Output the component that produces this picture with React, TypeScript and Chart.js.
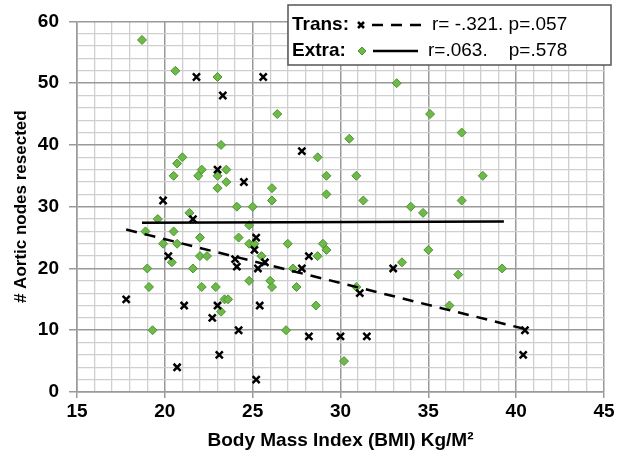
import React, { useEffect, useRef } from "react";
import { Chart, registerables } from "chart.js";

Chart.register(...registerables);

// Trans (black x markers)
const transBMI = [21.8, 25.6, 23.3, 27.8, 23.0, 24.5, 19.9, 21.6, 25.2, 25.1, 20.2, 28.2, 24.0, 24.1, 25.7, 25.3, 27.8, 33.0, 31.1, 17.8, 21.1, 23.0, 25.4, 22.7, 24.2, 40.5, 28.2, 30.0, 31.5, 23.1, 40.4, 20.7, 25.2];
const transNodes = [51, 51, 48, 39, 36, 34, 31, 28, 25, 23, 22, 22, 21.5, 20.3, 21, 20, 20, 20, 16, 15, 14, 14, 14, 12, 10, 10, 9, 9, 9, 6, 6, 4, 2];

// Extra (green diamonds)
const extraBMI = [18.7, 20.6, 23.0, 26.4, 23.2, 21.0, 20.7, 20.5, 22.1, 21.9, 23.0, 23.5, 23.5, 23.0, 26.1, 26.1, 24.1, 25.0, 19.6, 21.4, 24.8, 18.9, 20.5, 19.9, 20.7, 22.0, 24.2, 24.8, 25.1, 25.5, 20.4, 22.0, 22.4, 19.0, 21.6, 24.8, 26.0, 26.1, 19.1, 22.1, 22.9, 23.4, 23.6, 23.2, 19.3, 33.2, 35.1, 36.9, 30.5, 28.7, 29.2, 30.9, 38.1, 29.2, 31.3, 36.9, 34.0, 34.7, 27.0, 29.0, 29.2, 28.7, 27.3, 33.5, 35.0, 27.5, 30.9, 28.6, 26.9, 30.2, 36.7, 39.2, 36.2];
const extraNodes = [57, 52, 51, 45, 40, 38, 37, 35, 36, 35, 35, 36, 34, 33, 33, 31, 30, 30, 28, 29, 27, 26, 26, 24, 24, 25, 25, 24, 24, 22, 21, 22, 22, 20, 20, 18, 18, 17, 17, 17, 17, 15, 15, 13, 10, 50, 45, 42, 41, 38, 35, 35, 35, 32, 31, 31, 30, 29, 24, 24, 23, 22, 20, 21, 23, 17, 17, 14, 10, 5, 19, 20, 14];

// Trend lines (end points)
const transTrendBMI = [17.8, 40.5];
const transTrendNodes = [26.3, 10.2];
const extraTrendBMI = [18.7, 39.3];
const extraTrendNodes = [27.4, 27.6];

const xTitle = "Body Mass Index (BMI) Kg/M²";
const yTitle = "# Aortic nodes resected";
const legendLabels = ["Trans:", "Extra:"];
const legendStats = ["r= -.321. p=.057", "r=.063.    p=.578"];

const FONT = "'Liberation Sans', Arial, Helvetica, sans-serif";
const GREEN = "#6fb84a";
const GREEN_BORDER = "#4a9630";

const toPts = (xs: number[], ys: number[]) => xs.map((x, i) => ({ x, y: ys[i] }));

const legendPlugin = {
  id: "customLegend",
  afterDraw(chart: any) {
    const ctx = chart.ctx as CanvasRenderingContext2D;
    ctx.save();
    const bx = 288, by = 5, bw = 323, bh = 60;
    ctx.fillStyle = "#fff";
    ctx.fillRect(bx, by, bw, bh);
    ctx.strokeStyle = "#555";
    ctx.lineWidth = 1.5;
    ctx.strokeRect(bx, by, bw, bh);

    ctx.textBaseline = "middle";
    ctx.fillStyle = "#000";
    const rows = [25, 51];
    ctx.font = `bold 19px ${FONT}`;
    ctx.textAlign = "left";
    ctx.fillText(legendLabels[0], 292, rows[0]);
    ctx.fillText(legendLabels[1], 292, rows[1]);

    // Trans marker: x
    ctx.strokeStyle = "#000";
    ctx.lineWidth = 2.5;
    const cx = 361, cy = rows[0];
    ctx.beginPath();
    ctx.moveTo(cx - 3, cy - 3); ctx.lineTo(cx + 3, cy + 3);
    ctx.moveTo(cx + 3, cy - 3); ctx.lineTo(cx - 3, cy + 3);
    ctx.stroke();
    ctx.setLineDash([11, 8]);
    ctx.beginPath();
    ctx.moveTo(372, cy); ctx.lineTo(425, cy);
    ctx.stroke();
    ctx.setLineDash([]);

    // Extra marker: diamond
    const dx = 362, dy = rows[1];
    ctx.fillStyle = GREEN;
    ctx.strokeStyle = GREEN_BORDER;
    ctx.lineWidth = 1;
    ctx.beginPath();
    ctx.moveTo(dx, dy - 4); ctx.lineTo(dx + 4, dy); ctx.lineTo(dx, dy + 4); ctx.lineTo(dx - 4, dy); ctx.closePath();
    ctx.fill(); ctx.stroke();
    ctx.strokeStyle = "#000";
    ctx.lineWidth = 2.5;
    ctx.beginPath();
    ctx.moveTo(373, dy); ctx.lineTo(418, dy);
    ctx.stroke();

    ctx.fillStyle = "#000";
    ctx.font = `19px ${FONT}`;
    ctx.fillText(legendStats[0], 432, rows[0]);
    ctx.fillText(legendStats[1], 428, rows[1]);
    ctx.restore();
  },
};

export default function App() {
  const ref = useRef<HTMLCanvasElement | null>(null);
  useEffect(() => {
    if (!ref.current) return;
    const chart = new Chart(ref.current, {
      type: "scatter",
      data: {
        datasets: [
          {
            label: "Trans",
            data: toPts(transBMI, transNodes),
            pointStyle: "crossRot",
            pointRadius: 5,
            pointBorderWidth: 2.5,
            borderColor: "#000",
            backgroundColor: "#000",
            order: 2,
          },
          {
            label: "Extra",
            data: toPts(extraBMI, extraNodes),
            pointStyle: "rectRot",
            pointRadius: 4.5,
            pointBorderWidth: 1,
            borderColor: GREEN_BORDER,
            backgroundColor: GREEN,
            order: 3,
          },
          {
            type: "line",
            label: "Trans trend",
            data: toPts(transTrendBMI, transTrendNodes),
            borderColor: "#000",
            borderWidth: 2.5,
            borderDash: [11, 8],
            pointRadius: 0,
            showLine: true,
            fill: false,
            order: 1,
          } as any,
          {
            type: "line",
            label: "Extra trend",
            data: toPts(extraTrendBMI, extraTrendNodes),
            borderColor: "#000",
            borderWidth: 2.5,
            pointRadius: 0,
            showLine: true,
            fill: false,
            order: 1,
          } as any,
        ],
      },
      options: {
        responsive: false,
        animation: false,
        events: [],
        layout: { padding: { left: 0, top: 18, right: 13, bottom: 0 } },
        plugins: { legend: { display: false }, tooltip: { enabled: false } },
        scales: {
          x: {
            type: "linear",
            min: 15,
            max: 45,
            afterFit: (s: any) => { s.height = 72; },
            ticks: {
              stepSize: 1,
              autoSkip: false,
              maxRotation: 0,
              padding: 2,
              color: "#000",
              font: { family: FONT, size: 19, weight: "bold" },
              callback: (v: any) => (Number(v) % 5 === 0 ? String(v) : ""),
            },
            grid: {
              color: (c: any) => (c.tick && c.tick.value % 5 === 0 ? "#9a9a9a" : "#cfcfcf"),
              lineWidth: (c: any) => (c.tick && c.tick.value % 5 === 0 ? 1.5 : 1.3),
              tickColor: (c: any) => (c.tick && c.tick.value % 5 === 0 ? "#9a9a9a" : "rgba(0,0,0,0)"),
              tickLength: 6,
            },
            border: { color: "#9a9a9a", width: 1.5 },
            title: {
              display: true,
              text: xTitle,
              color: "#000",
              font: { family: FONT, size: 19, weight: "bold" },
              padding: { top: 0, bottom: 12 },
            },
          },
          y: {
            type: "linear",
            min: 0,
            max: 60,
            afterFit: (s: any) => { s.width = 77; },
            ticks: {
              stepSize: 2,
              autoSkip: false,
              padding: 10,
              color: "#000",
              font: { family: FONT, size: 19, weight: "bold" },
              callback: (v: any) => (Number(v) % 10 === 0 ? String(v) : ""),
            },
            grid: {
              color: (c: any) => (c.tick && c.tick.value % 10 === 0 ? "#9a9a9a" : "#cfcfcf"),
              lineWidth: (c: any) => (c.tick && c.tick.value % 10 === 0 ? 1.5 : 1.3),
              tickColor: (c: any) => (c.tick && c.tick.value % 10 === 0 ? "#9a9a9a" : "rgba(0,0,0,0)"),
              tickLength: 8,
            },
            border: { color: "#9a9a9a", width: 1.5 },
            title: {
              display: true,
              text: yTitle,
              color: "#000",
              font: { family: FONT, size: 17, weight: "bold" },
              padding: { top: 11, bottom: 0 },
            },
          },
        },
      },
      plugins: [legendPlugin],
    });
    return () => chart.destroy();
  }, []);

  return (
    <div style={{ position: "fixed", left: 0, top: 0, width: 617, height: 464, background: "#fff" }}>
      <canvas ref={ref} width={617} height={464} style={{ width: 617, height: 464, display: "block" }} />
    </div>
  );
}
